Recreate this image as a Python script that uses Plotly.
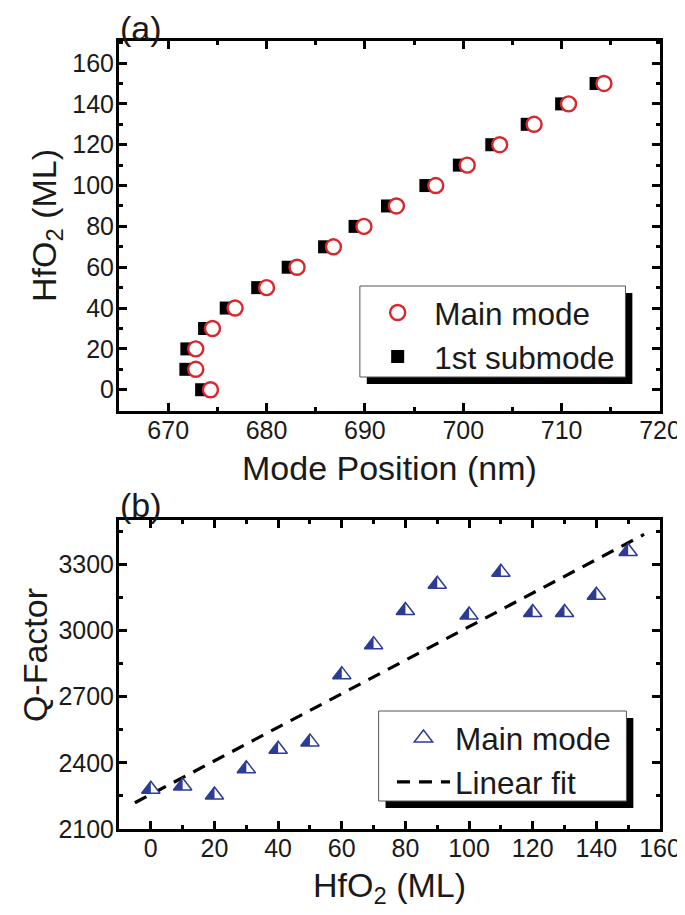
import plotly.graph_objects as go

# ---------------- data ----------------
hfo2_ml = [0, 10, 20, 30, 40, 50, 60, 70, 80, 90, 100, 110, 120, 130, 140, 150]
main_mode_nm = [674.3, 672.8, 672.8, 674.5, 676.8, 680.0, 683.1, 686.8,
                689.9, 693.2, 697.2, 700.4, 703.7, 707.2, 710.7, 714.3]
sub_mode_nm = [673.4, 671.8, 671.9, 673.7, 675.9, 679.1, 682.2, 685.9,
               689.0, 692.3, 696.2, 699.6, 702.9, 706.5, 710.0, 713.5]
q_factor = [2280, 2295, 2254, 2373, 2462, 2495, 2800, 2936,
            3091, 3210, 3070, 3264, 3082, 3082, 3160, 3358]
fit_x = [-5, 155]
fit_y = [2219, 3436]

# ---------------- style / layout constants ----------------
RED = "#d8262c"
BLUE = "#2c3b94"
TXT = "#1a1a1a"
FONT = "Liberation Sans, Arial, sans-serif"

W, H = 685, 915
ML, MR, MT, MB = 111, 26, 33, 94
PW, PH = W - ML - MR, H - MT - MB
XA_RANGE = [665, 720]
YA_RANGE = [-10.4, 170.8]
XB_RANGE = [-10, 160]
YB_RANGE = [2100, 3500]
YA_DOM = [0.5305, 1.0]
YB_DOM = [0.0, 0.3918]
TRI_SIZE = 16
LEG_FS = 31.5
LEG_A = dict(left=356.3, top=277.5, iw=63)
LEG_B = dict(left=387.5, top=703.0, iw=53)


def px_x(p):
    return (p - ML) / PW


def px_y(p):
    return (H - MB - p) / PH


fig = go.Figure()

# panel (a)
fig.add_trace(go.Scatter(
    x=sub_mode_nm, y=hfo2_ml, mode="markers", name="1st submode",
    marker=dict(symbol="square", size=13, color="black", line=dict(width=0)),
    xaxis="x", yaxis="y", legend="legend", legendrank=2))
fig.add_trace(go.Scatter(
    x=main_mode_nm, y=hfo2_ml, mode="markers", name="Main mode",
    marker=dict(symbol="circle", size=15, color="white", line=dict(color=RED, width=2.4)),
    xaxis="x", yaxis="y", legend="legend", legendrank=1))

# panel (b)
fig.add_trace(go.Scatter(
    x=fit_x, y=fit_y, mode="lines", name="Linear fit",
    line=dict(color="black", width=3.2, dash="13px,9px"),
    xaxis="x2", yaxis="y2", legend="legend2", legendrank=2))
fig.add_trace(go.Scatter(
    x=hfo2_ml, y=q_factor, mode="markers", name="Main mode",
    marker=dict(symbol="triangle-up", size=TRI_SIZE, color="white", line=dict(color=BLUE, width=1.5)),
    xaxis="x2", yaxis="y2", legend="legend2", legendrank=1))

shapes = []

# left half of each triangle filled (plotly triangle-up geometry: apex r above, base r/2 below)
r = TRI_SIZE / 2
rt = r * 2 / 3 ** 0.5
kx = PW / (XB_RANGE[1] - XB_RANGE[0])
ky = PH * (YB_DOM[1] - YB_DOM[0]) / (YB_RANGE[1] - YB_RANGE[0])
for xv, yv in zip(hfo2_ml, q_factor):
    path = (f"M{xv - rt / kx},{yv - (r / 2) / ky} L{xv},{yv - (r / 2) / ky} "
            f"L{xv},{yv + r / ky} Z")
    shapes.append(dict(type="path", xref="x2", yref="y2", path=path,
                       fillcolor=BLUE, line=dict(width=0), layer="above"))

# legend frames with drop shadows
for (x0, y0, x1, y1) in [(355, 278, 624, 369), (374, 703, 625, 793)]:
    shapes.append(dict(type="rect", xref="paper", yref="paper",
                       x0=px_x(x0 + 7), x1=px_x(x1 + 7), y0=px_y(y0 + 7), y1=px_y(y1 + 7),
                       fillcolor="black", line=dict(width=0), layer="above"))
    shapes.append(dict(type="rect", xref="paper", yref="paper",
                       x0=px_x(x0), x1=px_x(x1), y0=px_y(y0), y1=px_y(y1),
                       fillcolor="white", line=dict(color="#555", width=1), layer="above"))

# legend (b) symbol: left half fill, at plotly's legend symbol centre
item_h = LEG_FS * 1.3 + 3
sx = LEG_B["left"] + LEG_B["iw"] / 2 + 5
sy = LEG_B["top"] + 5 + item_h / 2
shapes.append(dict(type="path", xref="paper", yref="paper",
                   path=(f"M{px_x(sx - rt)},{px_y(sy + r / 2)} L{px_x(sx)},{px_y(sy + r / 2)} "
                         f"L{px_x(sx)},{px_y(sy - r)} Z"),
                   fillcolor=BLUE, line=dict(width=0), layer="above"))

axis_common = dict(showline=True, linewidth=3, linecolor="black", mirror="allticks",
                   ticks="inside", ticklen=8, tickwidth=2.5, tickcolor="black",
                   showgrid=False, zeroline=False,
                   tickfont=dict(family=FONT, size=25, color=TXT))
minor_common = dict(ticks="inside", ticklen=4, tickwidth=2.5, tickcolor="black")

fig.update_layout(
    width=W, height=H,
    margin=dict(l=ML, r=MR, t=MT, b=MB),
    paper_bgcolor="white", plot_bgcolor="white",
    showlegend=True,
    xaxis=dict(domain=[0, 1], anchor="y", range=XA_RANGE, dtick=10, tick0=670,
               minor=dict(dtick=5, **minor_common), ticklabelstandoff=-5, **axis_common),
    yaxis=dict(domain=YA_DOM, anchor="x", range=YA_RANGE, dtick=20, tick0=0,
               minor=dict(dtick=10, **minor_common), ticklabelstandoff=-3, **axis_common),
    xaxis2=dict(domain=[0, 1], anchor="y2", range=XB_RANGE, dtick=20, tick0=0,
                minor=dict(dtick=10, **minor_common), ticklabelstandoff=-5, **axis_common),
    yaxis2=dict(domain=YB_DOM, anchor="x2", range=YB_RANGE, dtick=300, tick0=2400,
                minor=dict(dtick=150, **minor_common), ticklabelstandoff=-3, **axis_common),
    legend=dict(x=px_x(LEG_A["left"]), y=px_y(LEG_A["top"]), xanchor="left", yanchor="top",
                bgcolor="rgba(0,0,0,0)", borderwidth=0,
                font=dict(family=FONT, size=LEG_FS, color=TXT), itemwidth=LEG_A["iw"]),
    legend2=dict(x=px_x(LEG_B["left"]), y=px_y(LEG_B["top"]), xanchor="left", yanchor="top",
                 bgcolor="rgba(0,0,0,0)", borderwidth=0,
                 font=dict(family=FONT, size=LEG_FS, color=TXT), itemwidth=LEG_B["iw"]),
    shapes=shapes,
)

TITLE_SIZE = 34
ann = [
    dict(text="Mode Position (nm)", x=px_x(385), y=px_y(460), textangle=0,
         font=dict(family=FONT, size=TITLE_SIZE, color=TXT)),
    dict(text="HfO<sub>2</sub> (ML)", x=px_x(37), y=px_y(217), textangle=-90,
         font=dict(family=FONT, size=TITLE_SIZE, color=TXT)),
    dict(text="HfO<sub>2</sub> (ML)", x=px_x(385), y=px_y(879), textangle=0,
         font=dict(family=FONT, size=TITLE_SIZE, color=TXT)),
    dict(text="Q-Factor", x=px_x(26), y=px_y(647), textangle=-90,
         font=dict(family=FONT, size=TITLE_SIZE, color=TXT)),
    dict(text="(a)", x=px_x(133), y=px_y(20), textangle=0,
         font=dict(family=FONT, size=34, color=TXT)),
    dict(text="(b)", x=px_x(133), y=px_y(497), textangle=0,
         font=dict(family=FONT, size=34, color=TXT)),
]
for a in ann:
    a.update(xref="paper", yref="paper", showarrow=False, xanchor="center", yanchor="middle")
fig.update_layout(annotations=ann)

fig.write_html("out.html")
